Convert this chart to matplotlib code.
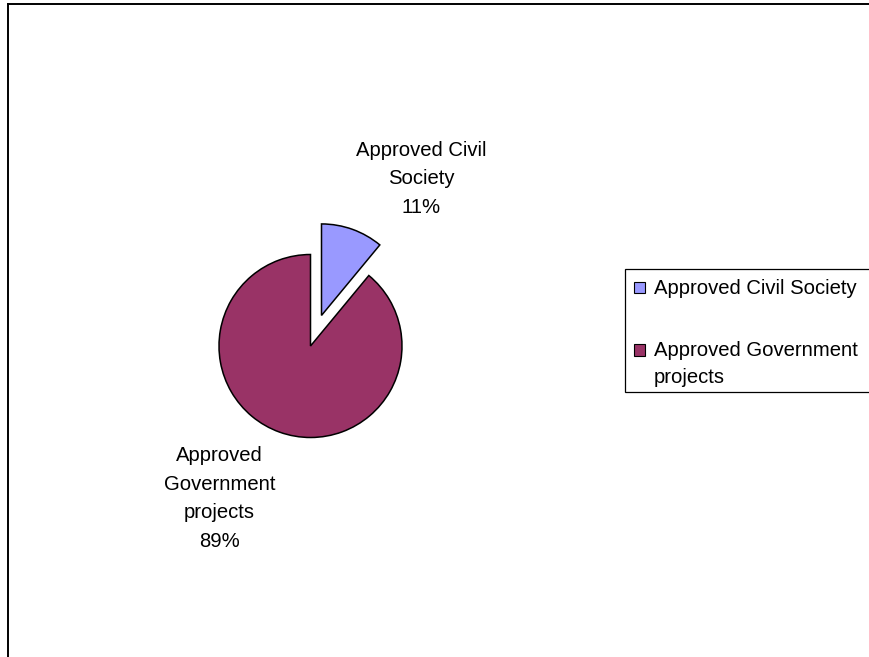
import matplotlib
matplotlib.use("Agg")
import matplotlib.pyplot as plt
from matplotlib.patches import Rectangle
from matplotlib.lines import Line2D

plt.rcParams['font.family'] = ['Liberation Sans', 'DejaVu Sans']

# ---- data ----
categories = ["Approved Civil Society", "Approved Government projects"]
values = [11, 89]
slice_labels = ["Approved Civil\nSociety", "Approved\nGovernment\nprojects"]
legend_labels = ["Approved Civil Society", "Approved Government\nprojects"]
colors = ["#9999FF", "#993366"]
explode = [0.355, 0.0]

W, H = 869, 657
fig = plt.figure(figsize=(W / 100, H / 100), dpi=100)

def fx(px):
    return px / W

def fy(py):
    return 1 - py / H

# pie axes: centre (310.5, 346) px, radius 91.5 px
cx, cy, r, half = 310.5, 346.0, 91.5, 200.0
ax = fig.add_axes([fx(cx - half), fy(cy + half), 2 * half / W, 2 * half / H])
ax.pie(values, colors=colors, explode=explode, startangle=90, counterclock=False,
       wedgeprops=dict(edgecolor="black", linewidth=1.1))
ax.set_xlim(-half / r, half / r)
ax.set_ylim(-half / r, half / r)
ax.set_aspect("auto")
ax.axis("off")

# slice labels (positions given as last-line baseline)
total = sum(values)
pcts = [f"{round(v * 100 / total)}%" for v in values]
label_pos = [(421, 213), (219.6, 547)]
for lab, pct, (px, py) in zip(slice_labels, pcts, label_pos):
    fig.text(fx(px), fy(py), f"{lab}\n{pct}", ha="center", va="baseline",
             fontsize=14.6, linespacing=1.65, color="black")

# legend (manual, Excel style)
fig.add_artist(Rectangle((fx(625), fy(392)), fx(880) - fx(625), fy(269) - fy(392),
                         transform=fig.transFigure, facecolor="white",
                         edgecolor="black", linewidth=0.9))
leg_rows = [(287.5, 293.5), (350, 383)]
ms = 5.6
for lab, col, (my, ty) in zip(legend_labels, colors, leg_rows):
    fig.add_artist(Rectangle((fx(633.5), fy(my + ms)), fx(633.5 + 2 * ms) - fx(633.5),
                             fy(my - ms) - fy(my + ms),
                             transform=fig.transFigure, facecolor=col,
                             edgecolor="black", linewidth=0.8))
    fig.text(fx(654), fy(ty), lab, ha="left", va="baseline", fontsize=14.6,
             linespacing=1.55, color="black")

# chart-area border (left and top visible)
fig.add_artist(Line2D([fx(8), fx(8)], [fy(4), fy(H + 5)], transform=fig.transFigure,
                      color="black", linewidth=1.4))
fig.add_artist(Line2D([fx(8), fx(W + 5)], [fy(4), fy(4)], transform=fig.transFigure,
                      color="black", linewidth=1.4))

fig.savefig("out.png", dpi=100, facecolor="white")
